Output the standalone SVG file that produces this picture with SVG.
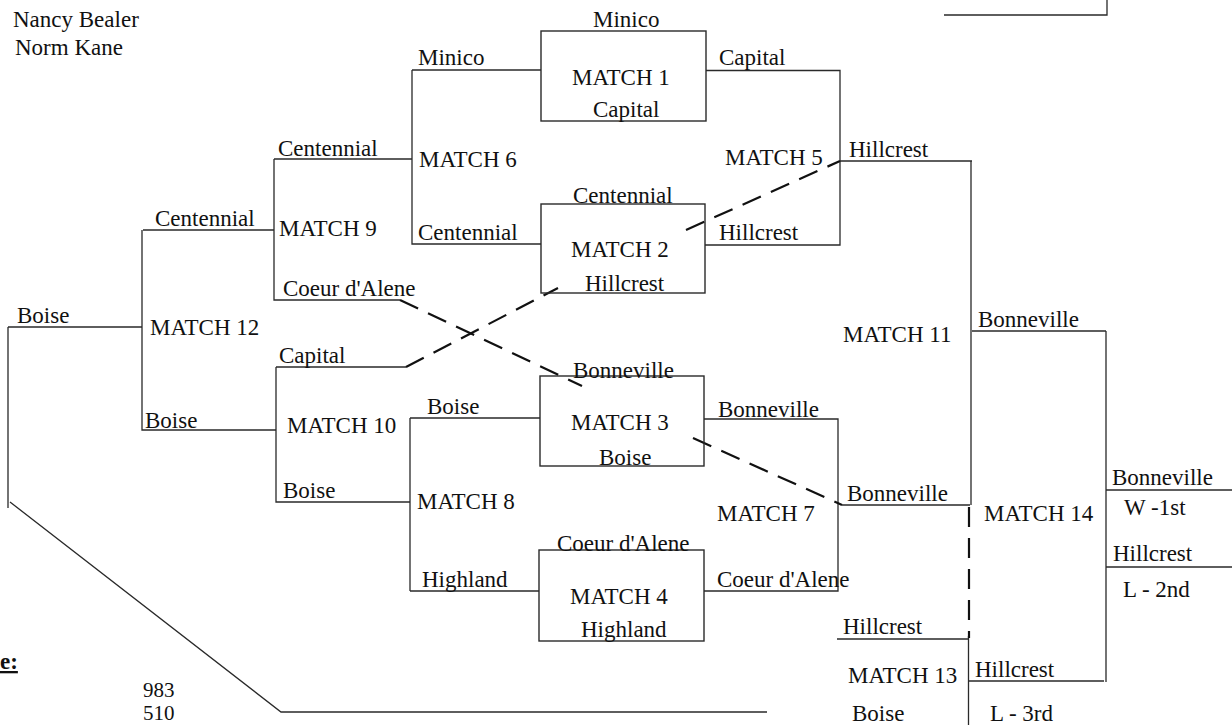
<svg xmlns="http://www.w3.org/2000/svg" width="1232" height="725" viewBox="0 0 1232 725">
<style>
.t{font-family:"Liberation Serif","Times New Roman",serif;font-size:23px;fill:#111}
.s{font-size:21px}
.ln{fill:none;stroke:#2a2a2a;stroke-width:1.3}
.box{fill:none;stroke:#2a2a2a;stroke-width:1.4}
.dash{fill:none;stroke:#111;stroke-width:2.2;stroke-dasharray:20 11}
.b{font-weight:bold;text-decoration:underline}
</style>
<rect width="1232" height="725" fill="#fff"/>
<g id="header">
<text class="t" x="13" y="27">Nancy Bealer</text>
<text class="t" x="15" y="55">Norm Kane</text>
</g>
<g id="connectors">
<path class="ln" d="M944 15H1107V0"/>
<path class="ln" d="M412 70H541M412 70V244H541M274 159H412"/>
<path class="ln" d="M706 70.5H840V245H705M840 161H972"/>
<path class="ln" d="M274 159V300H400M143 230H274"/>
<path class="ln" d="M142 230V430H276M8 327H142"/>
<path class="ln" d="M276 367H406M276 367V502H410"/>
<path class="ln" d="M410 418V591M410 418H540M410 591H539"/>
<path class="ln" d="M704 419H838V591H704M842 505H970"/>
<path class="ln" d="M971 161V505M972 331H1106"/>
<path class="ln" d="M1106 331V682M1106 490H1232M1106 567H1232"/>
<path class="ln" d="M837 639H968.5M968.5 636V725M968.5 681H1104"/>
<path class="ln" d="M8 327V508M10 502L281 712H767"/>
<path class="dash" d="M686 230L840 161"/>
<path class="dash" d="M406 367L558 288"/>
<path class="dash" d="M400 300L582 386"/>
<path class="dash" d="M693 438L842 505"/>
<path class="dash" d="M969 507V638"/>
</g>
<g id="match1">
<rect class="box" x="541" y="31" width="165" height="90"/>
<text class="t" x="593" y="27">Minico</text>
<text class="t" x="572" y="85">MATCH 1</text>
<text class="t" x="593" y="117">Capital</text>
</g>
<g id="match2">
<rect class="box" x="541" y="204" width="164" height="89"/>
<text class="t" x="573" y="203">Centennial</text>
<text class="t" x="571" y="257">MATCH 2</text>
<text class="t" x="585" y="291">Hillcrest</text>
</g>
<g id="match3">
<rect class="box" x="540" y="376" width="164" height="90"/>
<text class="t" x="573" y="378">Bonneville</text>
<text class="t" x="571" y="430">MATCH 3</text>
<text class="t" x="599" y="465">Boise</text>
</g>
<g id="match4">
<rect class="box" x="539" y="550" width="165" height="91"/>
<text class="t" x="557" y="551">Coeur d'Alene</text>
<text class="t" x="570" y="604">MATCH 4</text>
<text class="t" x="581" y="637">Highland</text>
</g>
<g id="match5">
<text class="t" x="719" y="65">Capital</text>
<text class="t" x="719" y="240">Hillcrest</text>
<text class="t" x="725" y="165">MATCH 5</text>
<text class="t" x="849" y="157">Hillcrest</text>
</g>
<g id="match6">
<text class="t" x="418" y="65">Minico</text>
<text class="t" x="418" y="240">Centennial</text>
<text class="t" x="419" y="167">MATCH 6</text>
<text class="t" x="278" y="156">Centennial</text>
</g>
<g id="match7">
<text class="t" x="718" y="417">Bonneville</text>
<text class="t" x="717" y="587">Coeur d'Alene</text>
<text class="t" x="717" y="521">MATCH 7</text>
<text class="t" x="847" y="501">Bonneville</text>
</g>
<g id="match8">
<text class="t" x="427" y="414">Boise</text>
<text class="t" x="422" y="587">Highland</text>
<text class="t" x="417" y="509">MATCH 8</text>
</g>
<g id="match9">
<text class="t" x="283" y="296">Coeur d'Alene</text>
<text class="t" x="279" y="236">MATCH 9</text>
<text class="t" x="155" y="226">Centennial</text>
</g>
<g id="match10">
<text class="t" x="279" y="363">Capital</text>
<text class="t" x="283" y="498">Boise</text>
<text class="t" x="287" y="433">MATCH 10</text>
<text class="t" x="145" y="428">Boise</text>
</g>
<g id="match11">
<text class="t" x="843" y="342">MATCH 11</text>
<text class="t" x="978" y="327">Bonneville</text>
</g>
<g id="match12">
<text class="t" x="150" y="335">MATCH 12</text>
<text class="t" x="17" y="323">Boise</text>
</g>
<g id="match13">
<text class="t" x="843" y="634">Hillcrest</text>
<text class="t" x="848" y="683">MATCH 13</text>
<text class="t" x="852" y="721">Boise</text>
<text class="t" x="975" y="677">Hillcrest</text>
<text class="t" x="990" y="721">L - 3rd</text>
</g>
<g id="match14">
<text class="t" x="984" y="521">MATCH 14</text>
<text class="t" x="1112" y="485">Bonneville</text>
<text class="t" x="1124" y="515">W -1st</text>
<text class="t" x="1113" y="561">Hillcrest</text>
<text class="t" x="1123" y="597">L - 2nd</text>
</g>
<g id="score">
<text class="t b" x="0" y="669">e:</text>
<text class="t s" x="143" y="697">983</text>
<text class="t s" x="143" y="720">510</text>
</g>
</svg>
